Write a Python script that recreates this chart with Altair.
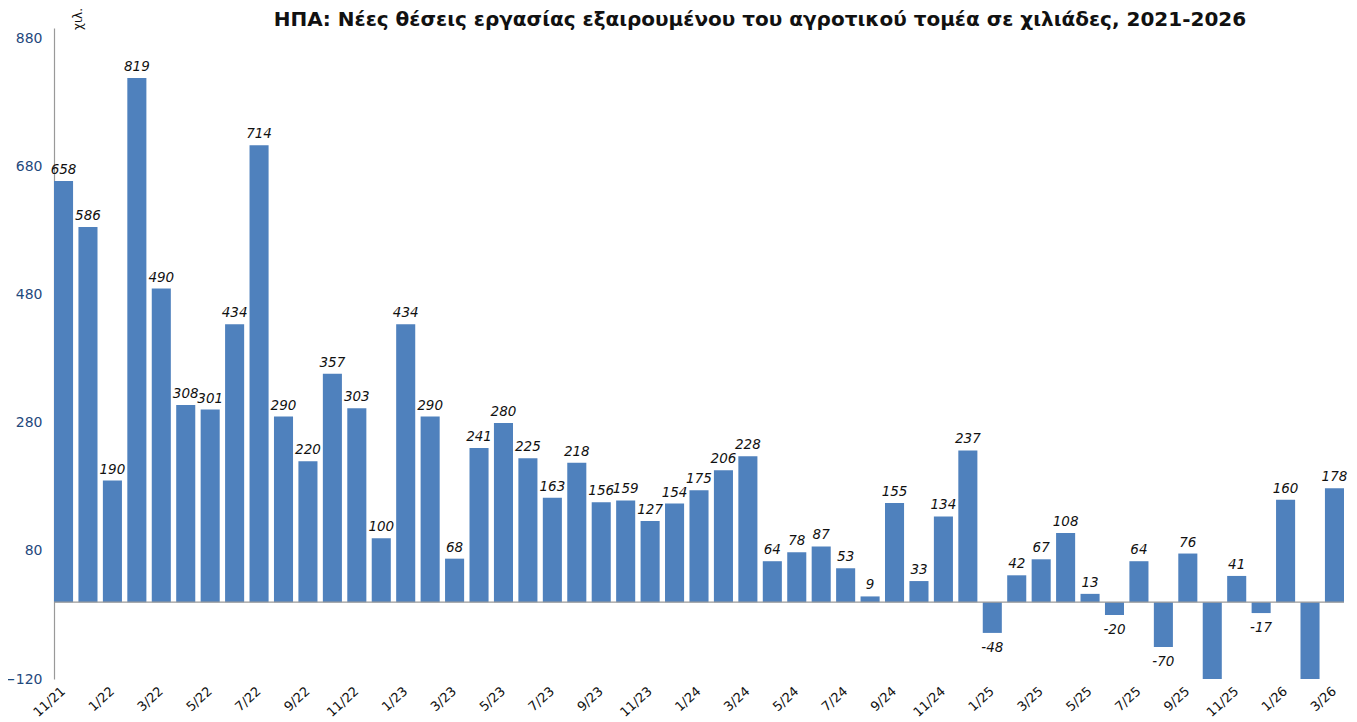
import altair as alt
import pandas as pd

months = ["11/21","12/21","1/22","2/22","3/22","4/22","5/22","6/22","7/22","8/22","9/22","10/22",
          "11/22","12/22","1/23","2/23","3/23","4/23","5/23","6/23","7/23","8/23","9/23","10/23",
          "11/23","12/23","1/24","2/24","3/24","4/24","5/24","6/24","7/24","8/24","9/24","10/24",
          "11/24","12/24","1/25","2/25","3/25","4/25","5/25","6/25","7/25","8/25","9/25","10/25",
          "11/25","12/25","1/26","2/26","3/26"]
values = [658, 586, 190, 819, 490, 308, 301, 434, 714, 290, 220, 357,
          303, 100, 434, 290, 68, 241, 280, 225, 163, 218, 156, 159,
          127, 154, 175, 206, 228, 64, 78, 87, 53, 9, 155, 33,
          134, 237, -48, 42, 67, 108, 13, -20, 64, -70, 76, -173,
          41, -17, 160, -133, 178]
tick_labels = months[::2]
y_ticks = [-120, 80, 280, 480, 680, 880]
title_text = "ΗΠΑ: Νέες θέσεις εργασίας εξαιρουμένου του αγροτικού τομέα σε χιλιάδες, 2021-2026"
unit_text = "χιλ."

df = pd.DataFrame({"month": months, "value": values})
df["label"] = [str(v) if v > -120 else "" for v in values]
df["pos"] = df["value"] >= 0

FONT = "DejaVu Sans"
x_enc = alt.X("month:N", sort=months,
              scale=alt.Scale(paddingInner=0.22, paddingOuter=0.0),
              axis=alt.Axis(values=tick_labels, labelAngle=-42, labelAlign="right",
                            labelBaseline="middle", labelFontSize=13, labelColor="#111111",
                            labelFont=FONT, ticks=False, domain=False, title=None,
                            labelPadding=10))
y_scale = alt.Scale(domain=[-120, 897], nice=False, zero=False)

bars = alt.Chart(df).mark_bar(color="#4F81BD", clip=True).encode(
    x=x_enc,
    y=alt.Y("value:Q", scale=y_scale,
            axis=alt.Axis(values=y_ticks, labelColor="#1F497D", labelFontSize=14,
                          labelFont=FONT, ticks=False, grid=False, domain=True,
                          domainColor="#999999", domainWidth=1.2, labelPadding=12, title=None)),
)

lab_pos = alt.Chart(df[df["pos"]]).mark_text(
    dy=-11, fontSize=13.5, fontStyle="italic", font=FONT, color="#111111"
).encode(x=alt.X("month:N", sort=months), y=alt.Y("value:Q", scale=y_scale), text="label:N")

lab_neg = alt.Chart(df[(~df["pos"]) & (df["value"] > -120)]).mark_text(
    dy=15, fontSize=13.5, fontStyle="italic", font=FONT, color="#111111"
).encode(x=alt.X("month:N", sort=months), y=alt.Y("value:Q", scale=y_scale), text="label:N")

zero = alt.Chart(pd.DataFrame({"z": [0]})).mark_rule(color="#999999", strokeWidth=1.2).encode(
    y=alt.Y("z:Q", scale=y_scale))

unit = alt.Chart(pd.DataFrame({"t": [unit_text]})).mark_text(
    angle=270, fontSize=12, font=FONT, color="#111111", align="center", baseline="middle"
).encode(x=alt.value(24), y=alt.value(-9), text="t:N")

title = alt.Chart(pd.DataFrame({"t": [title_text]})).mark_text(
    fontSize=20, fontWeight="bold", font=FONT, color="#111111", align="center", baseline="middle"
).encode(x=alt.value(706), y=alt.value(-8), text="t:N")

chart = alt.layer(bars, zero, lab_pos, lab_neg, unit, title).properties(
    width=1290, height=651,
    padding={"left": 46, "top": 20, "right": 5, "bottom": 40},
    autosize=alt.AutoSizeParams(type="none"),
).configure_view(stroke=None)

chart.save("out.html", embed_options={"renderer": "svg", "actions": False})
